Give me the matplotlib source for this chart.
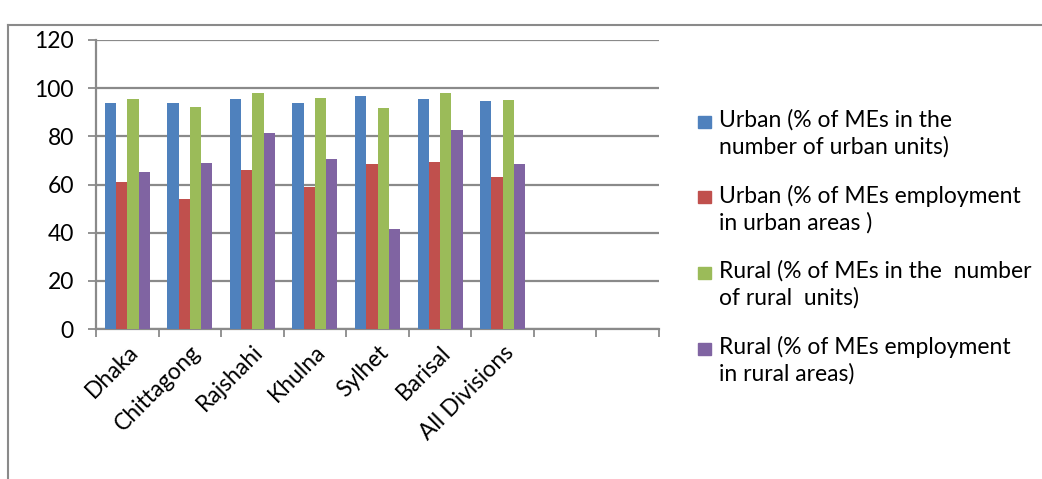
import matplotlib.pyplot as plt
import numpy as np
from matplotlib.patches import Rectangle
from matplotlib.lines import Line2D

plt.rcParams['font.family'] = ['Lato', 'DejaVu Sans']

divisions = ['Dhaka', 'Chittagong', 'Rajshahi', 'Khulna', 'Sylhet', 'Barisal', 'All Divisions']
n_slots = 9  # two empty categories at the right, as in the original sheet

urban_units = [93.7, 93.7, 95.4, 93.7, 96.6, 95.6, 94.8]
urban_empl = [61.0, 54.0, 65.9, 59.0, 68.5, 69.3, 63.1]
rural_units = [95.6, 92.3, 98.0, 95.8, 91.8, 97.9, 95.1]
rural_empl = [65.2, 69.1, 81.2, 70.4, 41.4, 82.6, 68.4]

series = [urban_units, urban_empl, rural_units, rural_empl]
labels = ['Urban (% of MEs in the\nnumber of urban units)',
          'Urban (% of MEs employment\nin urban areas )',
          'Rural (% of MEs in the  number\nof rural  units)',
          'Rural (% of MEs employment\nin rural areas)']
colors = ['#4F81BD', '#C0504D', '#9BBB59', '#8064A2']

W, H = 1042, 479
fs = 16.5
fig = plt.figure(figsize=(W / 100, H / 100), dpi=100)
ax = fig.add_axes([96 / W, 1 - 329 / H, 563 / W, 289 / H])

x = np.arange(len(divisions)) + 0.5
bw = 0.18
for k, (vals, c) in enumerate(zip(series, colors)):
    ax.bar(x + (k - 1.5) * bw, vals, bw, color=c, zorder=3, linewidth=0)

ax.set_xlim(0, n_slots)
ax.set_ylim(0, 120)
ax.set_yticks(range(0, 121, 20))
ax.yaxis.grid(True, color='#8a8a8a', linewidth=1.6, zorder=0)

ax.set_xticks(range(n_slots + 1))
ax.set_xticklabels([])
ax.set_xticks(x, minor=True)
ax.set_xticklabels(divisions, minor=True, rotation=45, ha='right', va='top',
                   rotation_mode='anchor', fontsize=fs)
ax.tick_params(axis='x', which='major', length=6, width=1.3, color='#8a8a8a', direction='out')
ax.tick_params(axis='x', which='minor', length=0, pad=9)
ax.tick_params(axis='y', length=6, width=1.3, color='#8a8a8a', labelsize=fs, pad=10)

for s in ['top', 'right']:
    ax.spines[s].set_visible(False)
for s in ['left', 'bottom']:
    ax.spines[s].set_color('#8a8a8a')
    ax.spines[s].set_linewidth(1.6)

# outer chart frame (only top and left edges visible)
fig.add_artist(Line2D([8 / W, 1.0], [1 - 25 / H, 1 - 25 / H], color='#8a8a8a', linewidth=1.5))
fig.add_artist(Line2D([8 / W, 8 / W], [0.0, 1 - 25 / H], color='#8a8a8a', linewidth=1.5))

# legend
for k, (lab, c) in enumerate(zip(labels, colors)):
    yc = 122 + k * 75.5
    fig.add_artist(Rectangle((698 / W, 1 - (yc + 6) / H), 13 / W, 12 / H,
                             transform=fig.transFigure, color=c))
    fig.text(719 / W, 1 - (yc - 13) / H, lab, fontsize=fs, va='top', ha='left',
             linespacing=1.3)

fig.savefig('out.png', dpi=100)
